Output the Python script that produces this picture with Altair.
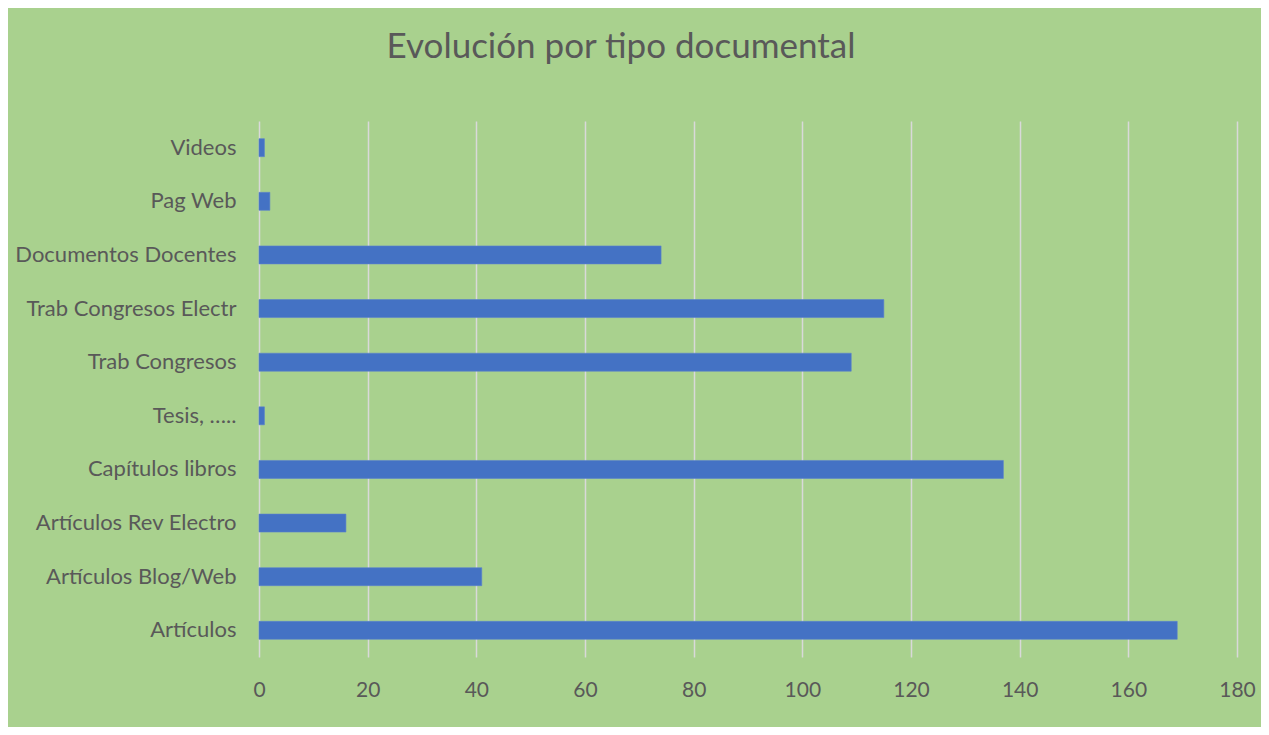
import altair as alt
import pandas as pd

categories = [
    "Videos",
    "Pag Web",
    "Documentos Docentes",
    "Trab Congresos Electr",
    "Trab Congresos",
    "Tesis, …..",
    "Capítulos libros",
    "Artículos Rev Electro",
    "Artículos Blog/Web",
    "Artículos",
]
values = [1, 2, 74, 115, 109, 1, 137, 16, 41, 169]
x_ticks = [0, 20, 40, 60, 80, 100, 120, 140, 160, 180]

df = pd.DataFrame({"tipo": categories, "n": values})

BG = "#A9D18E"
TXT = "#595959"
FONT = "Lato"

chart = (
    alt.Chart(df)
    .mark_bar(color="#4472C4", stroke="#5B82CF", strokeWidth=0.6)
    .encode(
        x=alt.X(
            "n:Q",
            scale=alt.Scale(domain=[0, 180], nice=False, zero=True),
            axis=alt.Axis(
                values=x_ticks,
                title=None,
                domain=False,
                ticks=False,
                grid=True,
                gridColor="#D9D9D9",
                gridWidth=1.5,
                labelFont=FONT,
                labelFontSize=21,
                labelColor=TXT,
                labelPadding=22,
                labelFlush=False,
                labelAlign="center",
            ),
        ),
        y=alt.Y(
            "tipo:N",
            sort=categories,
            scale=alt.Scale(paddingInner=0.665, paddingOuter=0.33),
            axis=alt.Axis(
                title=None,
                domain=False,
                ticks=False,
                grid=False,
                labelFont=FONT,
                labelFontSize=22,
                labelColor=TXT,
                labelPadding=23,
                labelLimit=400,
            ),
        ),
    )
    .properties(
        width=978,
        height=536,
        autosize=alt.AutoSizeParams(type="none"),
        padding={"left": 251, "top": 113, "right": 24, "bottom": 70},
        title=alt.TitleParams(
            "Evolución por tipo documental",
            font=FONT,
            fontSize=35,
            fontWeight="normal",
            color=TXT,
            anchor="middle",
            offset=56,
            dx=-127,
        ),
        background=BG,
    )
    .configure_view(fill=BG, stroke=None)
)

chart.save("out.html", embed_options={"renderer": "svg", "actions": False})
